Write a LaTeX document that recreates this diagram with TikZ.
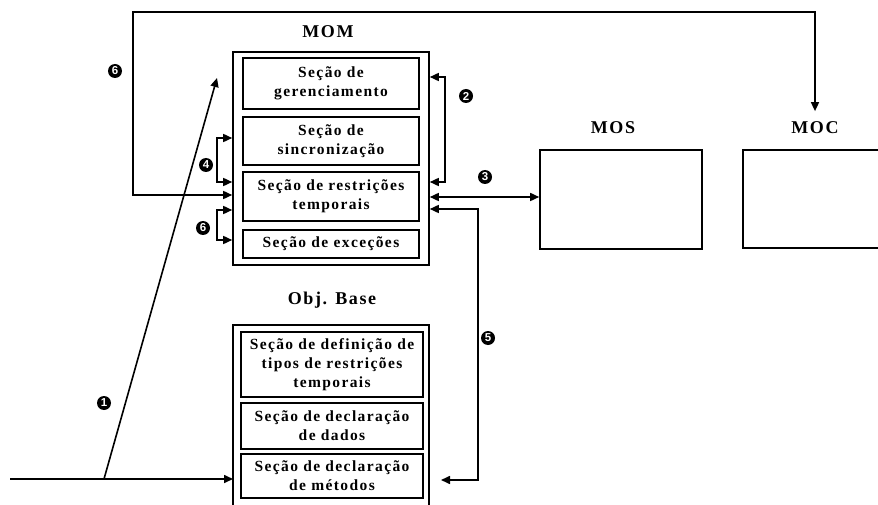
\documentclass[tikz,border=0pt]{standalone}
\usepackage{fontspec}
\setmainfont{Liberation Serif}
\newfontfamily\secfont[LetterSpace=9]{Liberation Serif}
\newfontfamily\numfont{Liberation Sans}
\usetikzlibrary{arrows.meta}
\begin{document}
\begin{tikzpicture}[x=1pt,y=-1pt,
  line width=1.6pt,
  tip/.style={-{Triangle[length=9pt,width=8pt]}},
  dtip/.style={{Triangle[length=9pt,width=8pt]}-{Triangle[length=9pt,width=8pt]}},
  outer/.style={draw,rectangle,inner sep=0pt},
  sec/.style={draw,rectangle,inner sep=0pt,align=center,
    font=\secfont\bfseries\fontsize{15.5}{19}\selectfont},
  title/.style={font=\secfont\bfseries\fontsize{18}{20}\selectfont,inner sep=0pt},
  num/.style={circle,fill=black,text=white,inner sep=0pt,minimum size=14pt,
    font=\numfont\bfseries\fontsize{11.5}{11.5}\selectfont}]
\useasboundingbox (0,0) rectangle (878,505);

% MOM and its sections
\node[title] (momt) at (328,32) {MOM};
\node[outer,minimum width=196pt,minimum height=213pt] (mom) at (331,158.5) {};
\node[sec,minimum width=176pt,minimum height=51pt] (ger) at (331,83.5) {Seção de\\gerenciamento};
\node[sec,minimum width=176pt,minimum height=48pt] (sin) at (331,141) {Seção de\\sincronização};
\node[sec,minimum width=176pt,minimum height=49pt] (res) at (331,196.5) {Seção de restrições\\temporais};
\node[sec,minimum width=176pt,minimum height=28pt] (exc) at (331,244) {Seção de exceções};

% MOS and MOC
\node[title] (most) at (613,128) {MOS};
\node[outer,minimum width=162pt,minimum height=99pt] (mos) at (621,199.5) {};
\node[title] (moct) at (815,128) {MOC};
\coordinate (mocA) at (890,150);
\coordinate (mocB) at (743,150);
\coordinate (mocC) at (743,248);
\coordinate (mocD) at (890,248);
\draw (mocA) -- (mocB) -- (mocC) -- (mocD);

% Obj. Base and its sections
\node[title] (objt) at (332,300) {Obj. Base};
\coordinate (obA) at (233,515);
\coordinate (obB) at (233,325);
\coordinate (obC) at (429,325);
\coordinate (obD) at (429,515);
\draw (obA) -- (obB) -- (obC) -- (obD);
\node[sec,minimum width=182pt,minimum height=65pt] (def) at (332,364.5) {Seção de definição de\\tipos de restrições\\temporais};
\node[sec,minimum width=182pt,minimum height=46pt] (dad) at (332,426) {Seção de declaração\\de dados};
\node[sec,minimum width=182pt,minimum height=44pt] (met) at (332,476) {Seção de declaração\\de métodos};

% connector end points
\coordinate (fbL) at (133,12);
\coordinate (inS) at (10,479);
\coordinate (inB) at (104,479);
\coordinate (inE) at (233,479);
\coordinate (upE) at (217,78);
\coordinate (k5) at (441,480);

% feedback loop (6) to MOM and MOC
\draw[dtip] (mom.west |- 0,195) -| (fbL) -| ([yshift=10pt]moct.north);
% input (1)
\draw[tip] (inS) -- (inE);
\draw[tip] (inB) -- (upE);
% (4) and (6) brackets on the left of MOM
\draw[dtip] (mom.west |- 0,138) -- (217,138) -- (217,182) -- (mom.west |- 0,182);
\draw[dtip] (mom.west |- 0,210) -- (217,210) -- (217,240) -- (mom.west |- 0,240);
% (2) bracket on the right of MOM
\draw[dtip] (mom.east |- 0,77) -- (445,77) -- (445,182) -- (mom.east |- 0,182);
% (3) MOM <-> MOS
\draw[dtip] (mom.east |- 0,197) -- (mos.west |- 0,197);
% (5) MOM <-> Obj. Base
\draw[dtip] (mom.east |- 0,209) -- (478,209) -- (478,480) -- (k5);

% step numbers
\node[num] (n6a) at (115,71) {6};
\node[num] (n1) at (104,403) {1};
\node[num] (n4) at (206,165) {4};
\node[num] (n6b) at (203,228) {6};
\node[num] (n2) at (466,96) {2};
\node[num] (n3) at (485,177) {3};
\node[num] (n5) at (488,338) {5};
\end{tikzpicture}
\end{document}
